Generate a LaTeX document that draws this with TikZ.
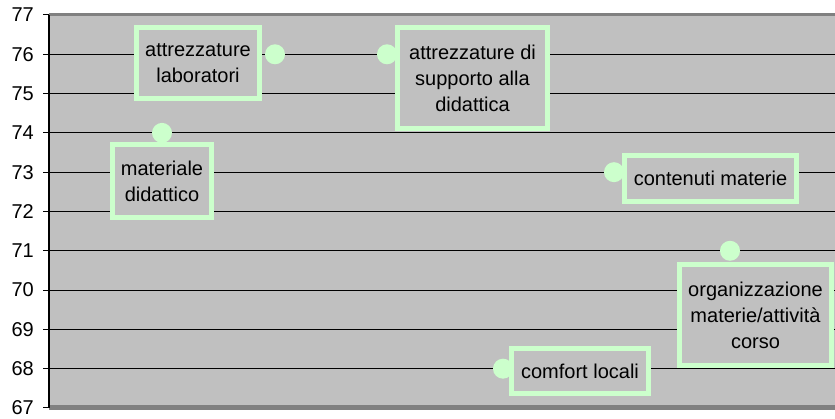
\documentclass[tikz,border=0pt]{standalone}
\usepackage{fontspec}
\setmainfont{Liberation Sans}
\usetikzlibrary {positioning}
\definecolor{plotgray}{HTML}{C0C0C0}
\definecolor{framegray}{HTML}{808080}
\definecolor{mint}{HTML}{CCFFCC}
\tikzset{
	datapt/.style={circle, fill=mint, minimum size=20pt, inner sep=0pt},
	labelbox/.style={draw=mint, line width=5pt, fill=plotgray, align=center, inner sep=0pt, text=black},
	ticklabel/.style={anchor=east, inner sep=0pt}
}

\begin{document}
\begin{tikzpicture}[x=1pt, y=39.3pt, font=\fontsize{20}{26}\selectfont]
	\useasboundingbox (0pt,-11pt) rectangle (835pt,408pt);

	% plot area
	\fill[plotgray] (50pt,3pt) rectangle (835pt,392pt);
	\foreach \v in {1,...,9}
		\draw[black, line width=1pt] (50,\v) -- (835,\v);
	\draw[framegray, line width=3pt] (49pt,393.5pt) -- (835pt,393.5pt);
	\draw[framegray, line width=5pt] (49pt,0.5pt) -- (835pt,0.5pt);

	% axis
	\draw[black, line width=2pt] (49,0) -- (49,10);
	\foreach \v [evaluate=\v as \lab using int(\v+67)] in {0,...,10} {
		\draw[black, line width=1pt] (43,\v) -- (49,\v);
		\node[ticklabel] (t\v) at (34,\v) {\lab};
	}

	% data
	\node[datapt] (Plab) at (275,9) {};
	\node[datapt] (Pmat) at (162,7) {};
	\node[datapt] (Psup) at (387,9) {};
	\node[datapt] (Pcon) at (614,6) {};
	\node[datapt] (Porg) at (730,4) {};
	\node[datapt] (Pcom) at (503,1) {};

	\node[labelbox, minimum width=123pt, minimum height=71pt] (Llab) at (198pt,345pt) {attrezzature\\laboratori};
	\node[labelbox, minimum width=99pt, minimum height=73pt] (Lmat) at (162pt,227pt) {materiale\\didattico};
	\node[labelbox, minimum width=150pt, minimum height=101pt] (Lsup) at (472.5pt,330pt) {attrezzature di\\supporto alla\\didattica};
	\node[labelbox, minimum width=172pt, minimum height=46pt] (Lcon) at (710.5pt,229.5pt) {contenuti materie};
	\node[labelbox, minimum width=152pt, minimum height=101pt] (Lorg) at (755.5pt,93pt) {organizzazione\\materie/attività\\corso};
	\node[labelbox, minimum width=137pt, minimum height=45pt] (Lcom) at (580pt,37pt) {comfort locali};
\end{tikzpicture}
\end{document}
